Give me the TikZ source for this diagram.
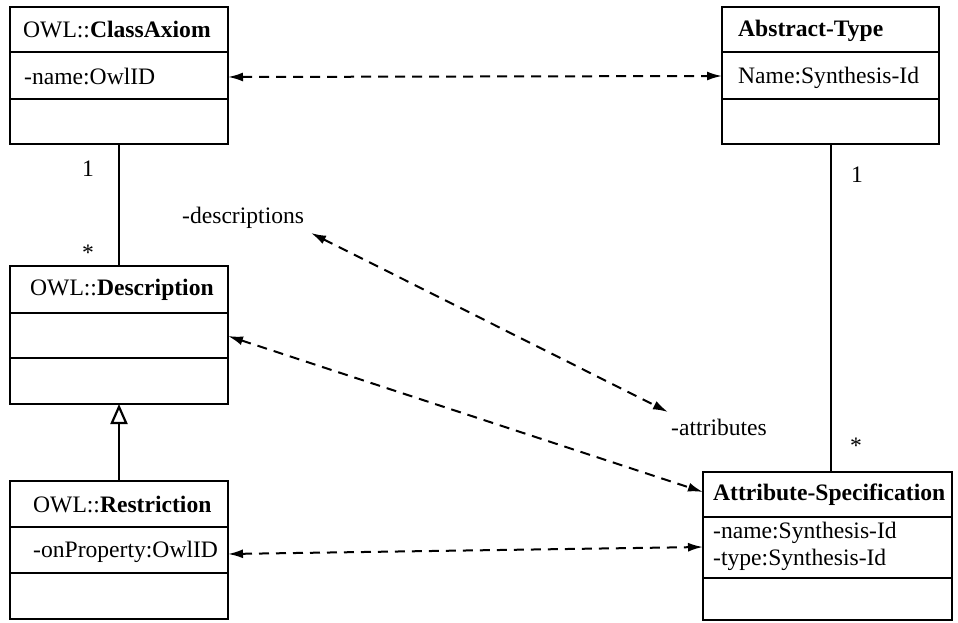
\documentclass[tikz,border=0pt]{standalone}
\usepackage{fontspec}
\setmainfont{Liberation Serif}
\usetikzlibrary{arrows.meta,calc}
\begin{document}
\begin{tikzpicture}[x=1pt,y=-1pt,
  font=\fontsize{23.6}{27}\selectfont,
  box/.style={draw, line width=2.2pt, anchor=north west, inner sep=0pt, outer sep=0pt},
  divider/.style={line width=2.2pt},
  txt/.style={anchor=base west, inner sep=0pt},
  lbl/.style={anchor=base, inner sep=0pt},
  assoc/.style={line width=2.2pt},
  dep/.style={line width=2pt, dash pattern=on 10pt off 7pt,
    {Latex[length=15pt,width=9pt]}-{Latex[length=15pt,width=9pt]}},
  gen/.style={line width=2.2pt, -{Triangle[length=20pt,width=17pt,fill=white]}}
]
\useasboundingbox (0,0) rectangle (958,623);

% ClassAxiom
\node[box, minimum width=218pt, minimum height=137pt] (CA) at (10,7) {};
\draw[divider] ([yshift=-45pt]CA.north west) -- ([yshift=-45pt]CA.north east);
\draw[divider] ([yshift=-92pt]CA.north west) -- ([yshift=-92pt]CA.north east);
\node[txt] (CAt) at (23,38) {OWL::\textbf{ClassAxiom}};
\node[txt] (CAa) at (24,85) {-name:OwlID};

% Abstract-Type
\node[box, minimum width=217pt, minimum height=137pt] (AT) at (722,7) {};
\draw[divider] ([yshift=-45pt]AT.north west) -- ([yshift=-45pt]AT.north east);
\draw[divider] ([yshift=-92pt]AT.north west) -- ([yshift=-92pt]AT.north east);
\node[txt] (ATt) at (738,37) {\textbf{Abstract-Type}};
\node[txt] (ATa) at (738,84) {Name:Synthesis-Id};

% Description
\node[box, minimum width=218pt, minimum height=138pt] (D) at (10,266) {};
\draw[divider] ([yshift=-47pt]D.north west) -- ([yshift=-47pt]D.north east);
\draw[divider] ([yshift=-92pt]D.north west) -- ([yshift=-92pt]D.north east);
\node[txt] (Dt) at (30,295) {OWL::\textbf{Description}};

% Restriction
\node[box, minimum width=218pt, minimum height=138pt] (R) at (10,481) {};
\draw[divider] ([yshift=-46pt]R.north west) -- ([yshift=-46pt]R.north east);
\draw[divider] ([yshift=-92pt]R.north west) -- ([yshift=-92pt]R.north east);
\node[txt] (Rt) at (33,512) {OWL::\textbf{Restriction}};
\node[txt] (Ra) at (33,557) {-onProperty:OwlID};

% Attribute-Specification
\node[box, minimum width=249pt, minimum height=148pt] (AS) at (703,472) {};
\draw[divider] ([yshift=-45pt]AS.north west) -- ([yshift=-45pt]AS.north east);
\draw[divider] ([yshift=-106pt]AS.north west) -- ([yshift=-106pt]AS.north east);
\node[txt] (ASt) at (713,500) {\textbf{Attribute-Specification}};
\node[txt] (ASa1) at (713,538) {-name:Synthesis-Id};
\node[txt] (ASa2) at (713,565) {-type:Synthesis-Id};

% associations
\draw[assoc] (CA.south) -- (D.north);
\draw[assoc] ([xshift=0.5pt]AT.south) -- ([xshift=0.5pt]AT.south |- AS.north);
\node[lbl] (m1) at (88,176) {1};
\node[lbl] (m2) at (88,260) {*};
\node[lbl] (m3) at (857,182) {1};
\node[lbl] (m4) at (856,453) {*};

% generalization
\draw[gen] (R.north) -- (D.south);

% dependencies
\draw[dep] ([yshift=-70pt]CA.north east) -- ([yshift=-69pt]AT.north west);
\draw[dep] ([yshift=-70pt]D.north east) -- ([yshift=-20pt]AS.north west);
\draw[dep] ([yshift=-73pt]R.north east) -- ([yshift=-75pt]AS.north west);
\coordinate (dA) at (311,233);
\coordinate (dB) at (668,412);
\draw[dep] (dA) -- (dB);
\node[txt] (desc) at (182,223) {-descriptions};
\node[txt] (attr) at (671,435) {-attributes};
\end{tikzpicture}
\end{document}
